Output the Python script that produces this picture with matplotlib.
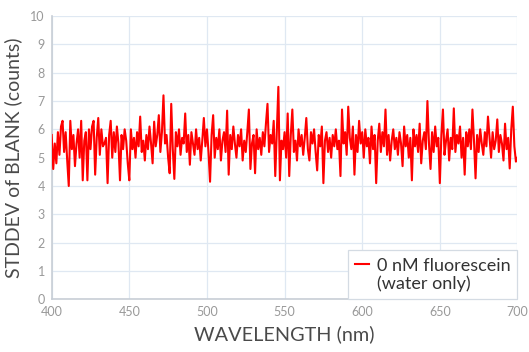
import numpy as np
import matplotlib
matplotlib.use("Agg")
import matplotlib.pyplot as plt
from matplotlib.lines import Line2D

plt.rcParams['font.family'] = ['Lato', 'DejaVu Sans']

# wavelength 400..700 nm, 1 nm steps
wavelength = np.arange(400, 701, 1)

# std dev of blank (counts)
stddev = [
    5.8, 4.6, 5.5, 4.8, 5.9, 5.1, 6.1, 6.3, 5.2, 5.9,
    4.9, 4.0, 6.3, 5.3, 5.8, 4.7, 5.5, 6.0, 5.0, 6.3,
    4.2, 5.6, 5.9, 4.2, 6.0, 5.3, 6.1, 6.3, 4.4, 5.7,
    6.4, 5.1, 6.0, 5.4, 5.5, 5.7, 4.1, 5.8, 6.3, 5.0,
    5.9, 5.2, 6.1, 5.5, 4.2, 5.8, 5.3, 6.0, 5.6, 4.8,
    4.2, 6.0, 5.3, 5.7, 5.0, 5.9, 5.4, 6.45, 5.2, 5.6,
    4.9, 5.8, 5.3, 6.1, 5.5, 4.8, 6.27, 5.4, 5.8, 6.5,
    5.2, 5.9, 7.2, 5.5, 5.8, 5.0, 4.45, 6.9, 5.3, 4.25,
    5.9, 5.4, 6.0, 5.1, 5.7, 5.5, 6.56, 5.2, 5.8, 4.75,
    5.9, 5.5, 5.1, 6.0, 5.3, 5.7, 4.9, 5.6, 6.4, 5.4,
    6.0, 5.2, 4.15, 5.8, 6.5, 5.0, 5.7, 5.3, 6.0, 4.9,
    5.6, 5.9, 5.2, 6.66, 4.4, 5.8, 5.3, 6.1, 5.5, 5.0,
    5.8, 5.4, 6.0, 4.9, 5.6, 5.2, 5.9, 6.7, 4.6, 5.5,
    5.8, 4.45, 6.0, 5.3, 5.7, 5.1, 5.9, 5.4, 6.2, 6.9,
    5.2, 5.8, 5.5, 6.3, 4.35, 5.9, 7.5, 4.2, 5.6, 5.3,
    5.9, 5.0, 6.56, 4.35, 5.8, 6.7, 5.2, 5.6, 4.9, 6.0,
    5.4, 5.8, 5.1, 5.7, 6.4, 5.3, 4.9, 5.9, 5.5, 6.0,
    5.2, 4.55, 5.8, 5.4, 6.1, 4.1, 5.6, 5.9, 5.2, 5.7,
    5.0, 5.8, 5.4, 6.0, 5.3, 5.6, 4.35, 6.7, 5.5, 5.9,
    5.1, 6.8, 5.7, 5.3, 6.1, 4.4, 5.8, 5.2, 6.3, 5.5,
    5.9, 5.0, 6.0, 5.4, 5.7, 4.8, 6.1, 5.3, 5.8, 4.1,
    5.6, 6.2, 5.2, 5.9, 5.4, 6.7, 5.1, 5.8, 4.9, 5.6,
    6.0, 5.3, 5.7, 5.1, 5.9, 5.5, 4.7, 6.1, 5.4, 5.8,
    5.0, 5.7, 4.2, 6.0, 5.4, 5.8, 5.2, 6.2, 4.8, 5.6,
    5.9, 5.3, 7.0, 5.5, 4.6, 5.9, 5.2, 6.1, 5.4, 5.7,
    4.1, 5.8, 6.7, 5.1, 5.6, 6.0, 4.9, 5.7, 5.3, 6.74,
    5.2, 5.8, 5.5, 6.1, 5.0, 5.7, 4.4, 5.9, 5.4, 6.0,
    5.3, 6.7, 5.6, 4.27, 5.8, 5.2, 6.0, 5.5, 5.1, 5.9,
    5.4, 6.45, 5.7, 5.0, 5.9, 5.3, 5.6, 6.35, 5.2, 5.8,
    5.5, 4.9, 6.2, 5.3, 5.7, 4.62, 6.0, 6.8, 5.4, 4.86,
    5.0,
]

xticks = [400, 450, 500, 550, 600, 650, 700]
yticks = list(range(0, 11))

fig = plt.figure(figsize=(5.29, 3.52), dpi=100)
ax = fig.add_axes([0.0977, 0.1497, 0.8805, 0.8048])

ax.plot(wavelength, stddev, color='#ff0000', lw=1.5, zorder=3)

ax.set_xlim(400, 700)
ax.set_ylim(0, 10)
ax.set_xticks(xticks)
ax.set_yticks(yticks)
ax.grid(True, color='#dfe8f2', lw=0.9, zorder=0)
ax.set_axisbelow(True)

for s in ['top', 'right']:
    ax.spines[s].set_visible(False)
for s in ['left', 'bottom']:
    ax.spines[s].set_color('#c8ced6')
    ax.spines[s].set_linewidth(1.2)

ax.tick_params(length=0, labelsize=9, labelcolor='#999999', pad=5)
ax.set_xlabel('WAVELENGTH (nm)', fontsize=14.3, color='#4a4a4a', labelpad=5)
ax.set_ylabel('STDDEV of BLANK (counts)', fontsize=14, color='#4a4a4a', labelpad=6)

h1 = Line2D([], [], color='#ff0000', lw=1.5)
h2 = Line2D([], [], color='none')
leg = ax.legend([h1, h2], ['0 nM fluorescein', '(water only)'], loc='lower right',
                borderaxespad=0, fancybox=False, framealpha=1, edgecolor='#d4dbe3',
                fontsize=13, handlelength=0.8, handletextpad=0.4, labelspacing=0.1,
                borderpad=0.4)
leg.get_frame().set_linewidth(0.9)
for t in leg.get_texts():
    t.set_color('#333333')

fig.savefig('out.png', dpi=100)
